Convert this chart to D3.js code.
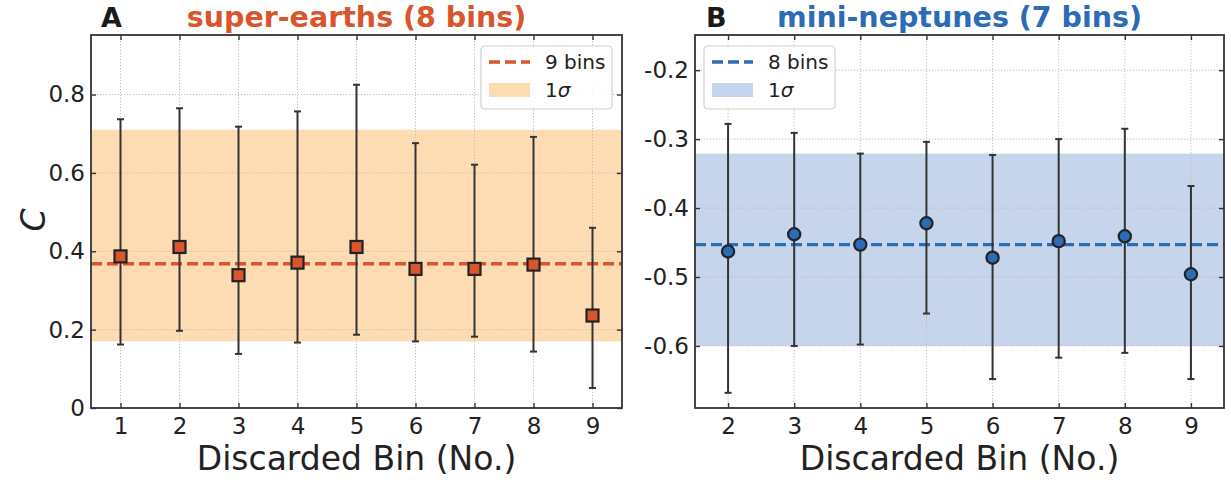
<!DOCTYPE html>
<html>
<head>
<meta charset="utf-8">
<script src="https://cdn.jsdelivr.net/npm/d3@7"></script>
<style>
  html, body { margin: 0; padding: 0; background: #fff; }
  svg { display: block; font-family: "DejaVu Sans", sans-serif; }
</style>
</head>
<body>
<svg id="fig" width="1231" height="480"></svg>
<script>
// ---- Panel A: super-earths, one bin discarded at a time ----
const binsA = [1, 2, 3, 4, 5, 6, 7, 8, 9];
const cA    = [0.387, 0.411, 0.339, 0.371, 0.411, 0.355, 0.355, 0.366, 0.236];
const cAHi  = [0.737, 0.765, 0.718, 0.757, 0.825, 0.676, 0.621, 0.692, 0.460];
const cALo  = [0.162, 0.197, 0.138, 0.167, 0.187, 0.170, 0.182, 0.144, 0.051];
const refA  = 0.368;           // all 9 bins
const bandA = [0.170, 0.710];  // 1 sigma
const yTicksA = [0, 0.2, 0.4, 0.6, 0.8];

// ---- Panel B: mini-neptunes ----
const binsB = [2, 3, 4, 5, 6, 7, 8, 9];
const cB    = [-0.463, -0.438, -0.453, -0.422, -0.472, -0.448, -0.441, -0.496];
const cBHi  = [-0.278, -0.291, -0.321, -0.304, -0.323, -0.300, -0.285, -0.368];
const cBLo  = [-0.668, -0.600, -0.598, -0.553, -0.648, -0.617, -0.610, -0.648];
const refB  = -0.453;            // all 8 bins
const bandB = [-0.600, -0.321];  // 1 sigma
const yTicksB = [-0.6, -0.5, -0.4, -0.3, -0.2];

const svg = d3.select("#fig");

function panel(cfg) {
  const { left, right, top, bottom } = cfg.box;
  const x = d3.scaleLinear().domain(cfg.xDomain).range([left, right]);
  const y = d3.scaleLinear().domain(cfg.yDomain).range([bottom, top]);
  const g = svg.append("g");

  const clipId = "clip-" + cfg.letter;
  svg.append("clipPath").attr("id", clipId)
    .append("rect").attr("x", left).attr("y", top)
    .attr("width", right - left).attr("height", bottom - top);
  const plot = g.append("g").attr("clip-path", `url(#${clipId})`);

  // 1-sigma band
  plot.append("rect")
    .attr("x", left).attr("width", right - left)
    .attr("y", y(cfg.band[1])).attr("height", y(cfg.band[0]) - y(cfg.band[1]))
    .attr("fill", cfg.bandColor);

  // dotted grid
  plot.selectAll(".gx").data(cfg.bins).join("line")
    .attr("x1", d => x(d)).attr("x2", d => x(d))
    .attr("y1", top).attr("y2", bottom)
    .attr("stroke", "#b8b8b8").attr("stroke-width", 0.9).attr("stroke-dasharray", "1.2,1.8");
  plot.selectAll(".gy").data(cfg.yTicks).join("line")
    .attr("x1", left).attr("x2", right)
    .attr("y1", d => y(d)).attr("y2", d => y(d))
    .attr("stroke", "#b8b8b8").attr("stroke-width", 0.9).attr("stroke-dasharray", "1.2,1.8");

  // reference line
  plot.append("line")
    .attr("x1", left).attr("x2", right)
    .attr("y1", y(cfg.ref)).attr("y2", y(cfg.ref))
    .attr("stroke", cfg.color).attr("stroke-width", 3.4)
    .attr("stroke-dasharray", "11,5");

  // error bars
  const pts = cfg.bins.map((b, i) => ({ b, v: cfg.vals[i], hi: cfg.hi[i], lo: cfg.lo[i] }));
  const eb = plot.append("g").attr("stroke", "#333").attr("stroke-width", 2);
  eb.selectAll(".stem").data(pts).join("line")
    .attr("x1", d => x(d.b)).attr("x2", d => x(d.b))
    .attr("y1", d => y(d.hi)).attr("y2", d => y(d.lo));
  eb.selectAll(".capHi").data(pts).join("line")
    .attr("x1", d => x(d.b) - 3.5).attr("x2", d => x(d.b) + 3.5)
    .attr("y1", d => y(d.hi)).attr("y2", d => y(d.hi));
  eb.selectAll(".capLo").data(pts).join("line")
    .attr("x1", d => x(d.b) - 3.5).attr("x2", d => x(d.b) + 3.5)
    .attr("y1", d => y(d.lo)).attr("y2", d => y(d.lo));

  // markers
  if (cfg.marker === "square") {
    plot.selectAll(".mk").data(pts).join("rect")
      .attr("x", d => x(d.b) - 6).attr("y", d => y(d.v) - 6)
      .attr("width", 12).attr("height", 12)
      .attr("fill", cfg.color).attr("stroke", "#222").attr("stroke-width", 2.2);
  } else {
    plot.selectAll(".mk").data(pts).join("circle")
      .attr("cx", d => x(d.b)).attr("cy", d => y(d.v)).attr("r", 6.1)
      .attr("fill", cfg.color).attr("stroke", "#222").attr("stroke-width", 2.2);
  }

  // axes, ticks pointing inward on all four sides
  const fs = "23px";
  const ax = g.append("g").attr("transform", `translate(0,${bottom})`)
    .call(d3.axisBottom(x).tickValues(cfg.bins).tickSize(-5).tickPadding(10).tickFormat(d3.format("d")));
  const axTop = g.append("g").attr("transform", `translate(0,${top})`)
    .call(d3.axisTop(x).tickValues(cfg.bins).tickSize(-5).tickFormat(""));
  const ay = g.append("g").attr("transform", `translate(${left},0)`)
    .call(d3.axisLeft(y).tickValues(cfg.yTicks).tickSize(-5).tickPadding(6).tickFormat(cfg.fmt));
  const ayR = g.append("g").attr("transform", `translate(${right},0)`)
    .call(d3.axisRight(y).tickValues(cfg.yTicks).tickSize(-5).tickFormat(""));
  [ax, axTop, ay, ayR].forEach(a => {
    a.select(".domain").remove();
    a.selectAll(".tick line").attr("stroke", "#333").attr("stroke-width", 1.4);
    a.selectAll(".tick text").attr("fill", "#222").style("font-size", fs)
      .style("font-family", "'DejaVu Sans', sans-serif");
  });

  // frame
  g.append("rect").attr("x", left).attr("y", top)
    .attr("width", right - left).attr("height", bottom - top)
    .attr("fill", "none").attr("stroke", "#333").attr("stroke-width", 1.8);

  // x label
  g.append("text").attr("x", (left + right) / 2).attr("y", 470)
    .attr("text-anchor", "middle").attr("fill", "#222")
    .style("font-size", "33px").text("Discarded Bin (No.)");

  // titles
  g.append("text").attr("x", cfg.letterX).attr("y", 26.5)
    .attr("fill", "#1a1a1a").style("font-size", "27px").style("font-weight", "bold")
    .text(cfg.letter);
  g.append("text").attr("x", (left + right) / 2).attr("y", 26.5)
    .attr("text-anchor", "middle").attr("fill", cfg.color)
    .style("font-size", "28.5px").style("font-weight", "bold")
    .text(cfg.title);

  // legend
  const lg = g.append("g").attr("transform", `translate(${cfg.legendX},46)`);
  lg.append("rect").attr("x", 0).attr("y", 0).attr("width", 131).attr("height", 63)
    .attr("rx", 4).attr("fill", "#fff").attr("fill-opacity", 0.85)
    .attr("stroke", "#d0d0d0").attr("stroke-width", 1.2);
  lg.append("line").attr("x1", 8).attr("x2", 49).attr("y1", 16).attr("y2", 16)
    .attr("stroke", cfg.color).attr("stroke-width", 3.4).attr("stroke-dasharray", "11,5");
  lg.append("text").attr("x", 64).attr("y", 23).attr("fill", "#222")
    .style("font-size", "20px").text(cfg.refLabel);
  lg.append("rect").attr("x", 8).attr("y", 37).attr("width", 41).attr("height", 14)
    .attr("fill", cfg.bandColor);
  const t = lg.append("text").attr("x", 64).attr("y", 51).attr("fill", "#222")
    .style("font-size", "20px");
  t.append("tspan").text("1");
  t.append("tspan").style("font-style", "italic").text("σ");
}

panel({
  letter: "A", letterX: 101, title: "super-earths (8 bins)",
  box: { left: 91, right: 622, top: 35, bottom: 408 },
  xDomain: [0.5, 9.5], yDomain: [0, 0.952],
  bins: binsA, vals: cA, hi: cAHi, lo: cALo, ref: refA, band: bandA,
  yTicks: yTicksA, fmt: d => d === 0 ? "0" : d.toFixed(1),
  color: "#d9552b", bandColor: "#fddcb4", marker: "square",
  legendX: 481, refLabel: "9 bins"
});

panel({
  letter: "B", letterX: 706, title: "mini-neptunes (7 bins)",
  box: { left: 695, right: 1224, top: 35, bottom: 408 },
  xDomain: [1.5, 9.5], yDomain: [-0.690, -0.149],
  bins: binsB, vals: cB, hi: cBHi, lo: cBLo, ref: refB, band: bandB,
  yTicks: yTicksB, fmt: d => d.toFixed(1),
  color: "#2c6bb6", bandColor: "#c6d5ec", marker: "circle",
  legendX: 704, refLabel: "8 bins"
});

// y label (italic C)
svg.append("text")
  .attr("transform", "translate(45,220) rotate(-90)")
  .attr("text-anchor", "middle").attr("fill", "#222")
  .style("font-size", "33px").style("font-style", "italic")
  .text("C");
</script>
</body>
</html>
